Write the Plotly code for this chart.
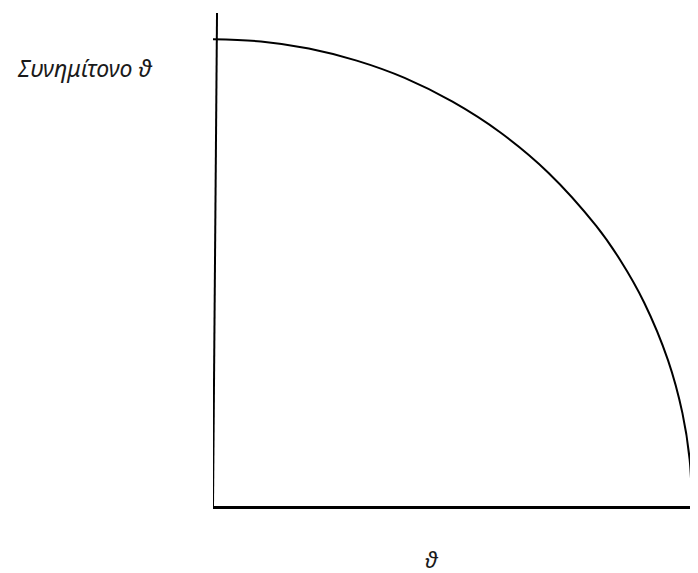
import plotly.graph_objects as go

# quarter curve (theta on x, cosine-ish on y)
theta = [0.0, 0.1, 0.2, 0.3, 0.4, 0.5, 0.6, 0.7, 0.8, 0.85, 0.9, 0.95, 0.98, 0.995, 1.0]
cos_vals = [1.0, 0.995, 0.98, 0.954, 0.917, 0.866, 0.80, 0.714, 0.60, 0.527, 0.436, 0.312, 0.199, 0.10, 0.0]

# hand drawn vertical axis, slightly leaning
axis_x = [0.0, 0.0084]
axis_y = [0.0, 1.056]

y_label = "Συνημίτονο ϑ"
x_label = "ϑ"

fig = go.Figure()

fig.add_trace(go.Scatter(
    x=axis_x, y=axis_y, mode="lines",
    line=dict(color="black", width=2),
    hoverinfo="skip", cliponaxis=False,
))

fig.add_trace(go.Scatter(
    x=theta, y=cos_vals, mode="lines",
    line=dict(color="black", width=2, shape="spline"),
    cliponaxis=False,
))

# the page body adds an 8px margin, so the figure is drawn 8px smaller
fig.update_layout(
    width=690, height=565,
    margin=dict(l=205, r=0, t=5, b=67),
    paper_bgcolor="white", plot_bgcolor="white",
    showlegend=False,
    font=dict(family="Noto Sans", color="#1a1a1a"),
    xaxis=dict(range=[0, 1.0125], showgrid=False, zeroline=False,
               showticklabels=False, ticks="",
               showline=True, linecolor="black", linewidth=2.5),
    yaxis=dict(range=[0, 1.056], showgrid=False, zeroline=False,
               showticklabels=False, ticks="", showline=False),
)

fig.add_annotation(
    text=f"<i>{y_label}</i>", xref="paper", yref="paper",
    x=(85 - 213) / 485, y=(506 - 68) / 493,
    xanchor="center", yanchor="middle", showarrow=False,
    font=dict(size=23, family="Noto Sans", color="#1a1a1a"),
)
fig.add_annotation(
    text=f"<i>{x_label}</i>", xref="paper", yref="paper",
    x=(432 - 213) / 485, y=(506 - 559) / 493,
    xanchor="center", yanchor="middle", showarrow=False,
    font=dict(size=22, family="Noto Sans", color="#1a1a1a"),
)

fig.write_html("out.html")
